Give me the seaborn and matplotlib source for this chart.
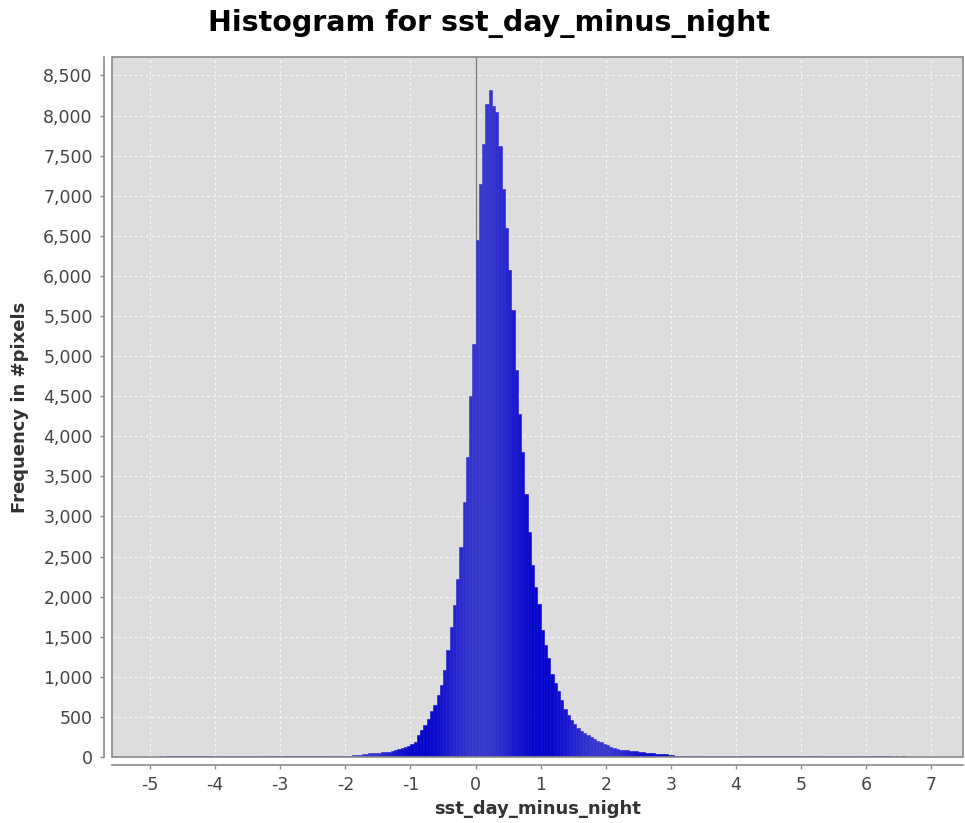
import numpy as np
import pandas as pd
import matplotlib
matplotlib.use("Agg")
import matplotlib.pyplot as plt
import seaborn as sns
from matplotlib.patches import Rectangle
from matplotlib.ticker import FuncFormatter

# ---------------- data ----------------
bin_start = -5.6
bin_width = 0.05

counts_left_tail = [
    0, 0, 1, 0, 1, 1, 2, 1, 2, 3, 3, 4,
    5, 6, 6, 7, 6, 7, 8, 7, 8, 8, 7, 8, 9, 8, 8, 9, 8, 9, 8, 9,
    8, 9, 9, 8, 9, 10, 9, 9, 10, 9, 10, 10, 9, 10, 11, 10, 10, 11, 10, 11,
    10, 11, 11, 10, 11, 12, 11, 12, 12, 11, 12, 12, 13, 12, 13, 13, 12, 12,
]
counts_core = [
    12, 13, 14, 16, 20, 25, 30, 35, 40, 45, 47, 48, 52, 57, 62, 68, 74, 88,
    98, 110, 125, 140, 160, 190, 270, 335, 400, 480, 570, 650, 770, 900,
    1080, 1330, 1620, 1900, 2220, 2620, 3180, 3740, 4500, 5150,
    6450, 7150, 7650, 8150, 8325, 8120, 8050, 7620, 7080, 6600, 6080, 5580,
    4830, 4280, 3800, 3280, 2810, 2400, 2120, 1910, 1590, 1400, 1230, 1040,
    920, 820, 710, 600, 520, 460, 410, 360, 330, 300, 270, 250, 225, 205,
    185, 168, 150, 125, 108, 100, 93, 88, 83, 79, 74, 69, 64, 59, 54, 50,
    46, 43, 40, 37, 32, 26, 21, 17, 14, 12,
]
counts_right_tail = [
    12, 11, 11, 12, 10, 11, 10, 11, 10, 10, 11, 10, 9, 10, 10, 9, 10, 9, 10, 9,
    9, 10, 9, 9, 10, 9, 8, 9, 9, 10, 9, 9, 8, 9, 10, 9, 9, 8, 9, 9,
    9, 8, 9, 8, 9, 9, 8, 8, 9, 8, 7, 8, 8, 9, 8, 7, 8, 7, 8, 8,
    7, 8, 7, 7, 6, 7, 6, 7, 6, 6, 5, 6, 5, 5, 4,
    2, 1, 1, 0, 1, 0, 0, 0, 0, 0, 0,
]
x_ticks = list(range(-5, 8))
y_ticks = list(range(0, 8501, 500))

title = "Histogram for sst_day_minus_night"
x_label = "sst_day_minus_night"
y_label = "Frequency in #pixels"

counts = counts_left_tail + counts_core + counts_right_tail
edges = np.round(bin_start + bin_width * np.arange(len(counts) + 1), 4)
centers = (edges[:-1] + edges[1:]) / 2
df = pd.DataFrame({"value": centers, "count": np.array(counts, dtype=float)})

# ---------------- style ----------------
sns.set_style("darkgrid", {
    "axes.facecolor": "#DDDDDD",
    "grid.color": "white",
    "grid.linestyle": (0, (2, 2)),
})
plt.rcParams["font.family"] = ["DejaVu Sans"]

fig = plt.figure(figsize=(9.65, 8.23), dpi=100)
fig.patch.set_facecolor("white")
ax = fig.add_axes([0.1161, 0.0802, 0.8819, 0.8505])

sns.histplot(data=df, x="value", weights="count", bins=edges.tolist(), ax=ax,
             stat="count", element="bars", fill=True, alpha=1,
             color="#2a2acc", linewidth=0)

light = np.array([0.22, 0.22, 0.81])
dark = np.array([0.02, 0.02, 0.80])
for p in ax.patches:
    c = p.get_x() + p.get_width() / 2
    t = 0.5 + 0.5 * np.cos(2 * np.pi * (c + 0.85) / 1.85)
    col = light * (1 - t) + dark * t
    p.set_facecolor(col)
    p.set_edgecolor(col)
    p.set_linewidth(0.4)
    p.set_zorder(2)

ax.axvline(0, color="#7a7a7a", lw=0.9, zorder=1.5)

ax.set_xlim(-5.584, 7.488)
ax.set_ylim(0, 8730)
ax.set_xticks(x_ticks)
ax.set_yticks(y_ticks)
ax.xaxis.set_major_formatter(FuncFormatter(lambda v, p: f"{int(round(v))}"))
ax.yaxis.set_major_formatter(FuncFormatter(lambda v, p: f"{int(v):,}"))
ax.grid(True, color="white", linestyle=(0, (2.5, 2.5)), linewidth=0.8, alpha=0.75)
ax.set_axisbelow(True)

for s in ["top", "right"]:
    ax.spines[s].set_visible(False)
for s in ["left", "bottom"]:
    ax.spines[s].set_visible(True)
    ax.spines[s].set_position(("outward", 5.8))
    ax.spines[s].set_color("#8a8a8a")
    ax.spines[s].set_linewidth(1.2)

ax.add_patch(Rectangle((0, 0), 1, 1, transform=ax.transAxes, fill=False,
                       edgecolor="#8a8a8a", lw=1.2, zorder=5, clip_on=False))

ax.tick_params(axis="both", which="major", direction="out", length=3,
               width=1, color="#8a8a8a", labelcolor="#444444",
               labelsize=12.5, pad=5, bottom=True, left=True)

ax.set_xlabel(x_label, fontsize=13, fontweight="bold", color="#333333", labelpad=4)
ax.set_ylabel(y_label, fontsize=13, fontweight="bold", color="#333333", labelpad=10)
fig.suptitle(title, x=0.507, y=0.971, fontsize=20.5, fontweight="bold",
             va="center", color="black")

fig.savefig("out.png", dpi=100)
